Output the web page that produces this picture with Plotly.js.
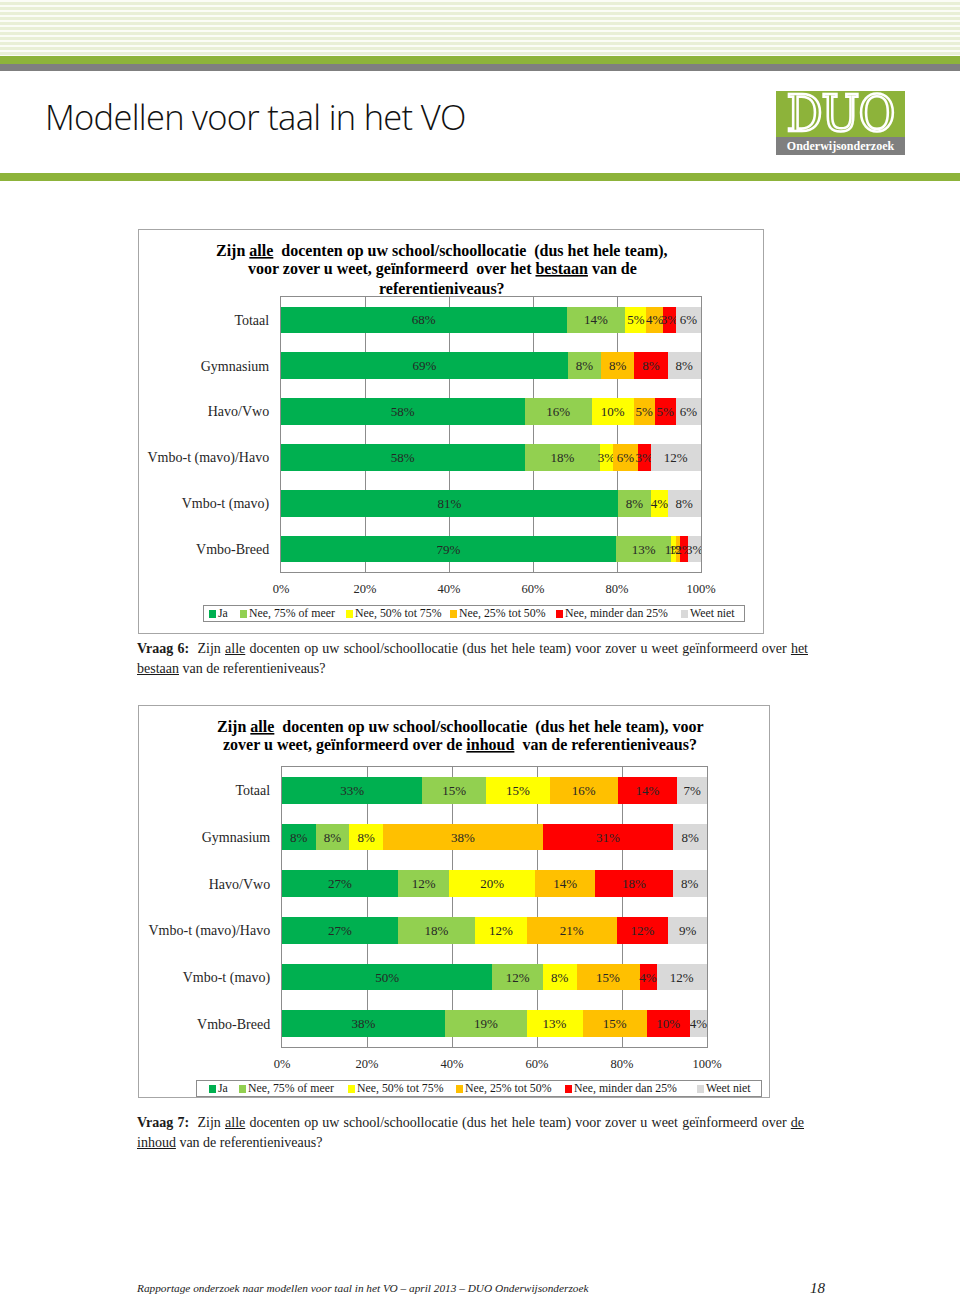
<!DOCTYPE html>
<html><head><meta charset="utf-8">
<script src="https://cdn.plot.ly/plotly-3.0.1.min.js"></script>
<style>
body{margin:0;width:960px;height:1298px;position:relative;background:#fff;font-family:"Liberation Serif",serif;overflow:hidden;color:#1a1a1a}
.abs{position:absolute}
#stripes{left:0;top:0;width:960px;height:56px;background:repeating-linear-gradient(to bottom,#fbfcf6 0px,#fbfcf6 2.5px,#e9efd6 2.5px,#e9efd6 5px)}
#g1{left:0;top:56px;width:960px;height:8px;background:#8db33a}
#gr1{left:0;top:64px;width:960px;height:7px;background:#7f7f7f}
#g2{left:0;top:173px;width:960px;height:8px;background:#8db33a}
#htitle{left:45px;top:93px;font-family:"Open Sans",sans-serif;font-weight:300;font-size:34.5px;color:#111;white-space:nowrap;letter-spacing:-0.7px}
#logo{left:776px;top:91px;width:129px;height:64px}
#logoTop{left:0;top:0;width:129px;height:46px;background:#8db33a;text-align:center;font-family:"DejaVu Serif",serif;font-stretch:condensed;font-size:50px;line-height:46px;color:#8db33a;-webkit-text-stroke:2.5px #fff;letter-spacing:-1px}
#logoBot{left:0;top:46px;width:129px;height:18px;background:#7f7f7f;color:#fff;font-weight:bold;font-size:12px;line-height:18px;text-align:center}
.box{border:1.5px solid #a6a6a6;box-sizing:border-box;pointer-events:none}
.leg{border:1px solid #8c8c8c;box-sizing:border-box;font-size:11.8px;line-height:15px;white-space:nowrap}
.legItem{position:absolute;top:0}
.sw{display:inline-block;width:7px;height:8px;margin-right:2px;vertical-align:-0.5px}
.cap{font-size:14px;line-height:20px;white-space:nowrap}
.just{text-align:justify;text-align-last:justify}
#footer{left:137px;top:1282px;font-style:italic;font-size:11.3px;white-space:nowrap;color:#222}
#pnum{left:810px;top:1280px;font-style:italic;font-size:15px;color:#222}
</style></head>
<body>
<div id="stripes" class="abs"></div>
<div id="g1" class="abs"></div>
<div id="gr1" class="abs"></div>
<div id="htitle" class="abs">Modellen voor taal in het VO</div>
<div id="logo" class="abs"><div id="logoTop" class="abs">DUO</div><div id="logoBot" class="abs">Onderwijsonderzoek</div></div>
<div id="g2" class="abs"></div>

<div id="chart1" class="abs" style="left:138px;top:229px;width:626px;height:405px"></div>
<div class="abs box" style="left:138px;top:229px;width:626px;height:405px"></div>
<div id="leg1" class="abs leg" style="left:203px;top:605px;width:542px;height:17px"></div>

<div class="abs cap just" style="left:137px;top:639px;width:671px"><b>Vraag 6:</b>&nbsp; Zijn <u>alle</u> docenten op uw school/schoollocatie (dus het hele team) voor zover u weet geïnformeerd over <u>het</u></div>
<div class="abs cap" style="left:137px;top:659px"><u>bestaan</u> van de referentieniveaus?</div>

<div id="chart2" class="abs" style="left:138px;top:705px;width:632px;height:393px"></div>
<div class="abs box" style="left:138px;top:705px;width:632px;height:393px"></div>
<div id="leg2" class="abs leg" style="left:196px;top:1080px;width:566px;height:17px"></div>

<div class="abs cap just" style="left:137px;top:1113px;width:667px"><b>Vraag 7:</b>&nbsp; Zijn <u>alle</u> docenten op uw school/schoollocatie (dus het hele team) voor zover u weet geïnformeerd over <u>de</u></div>
<div class="abs cap" style="left:137px;top:1133px"><u>inhoud</u> van de referentieniveaus?</div>

<div id="footer" class="abs">Rapportage onderzoek naar modellen voor taal in het VO – april 2013 – DUO Onderwijsonderzoek</div>
<div id="pnum" class="abs">18</div>

<script>
// ---------- DATA ----------
const categories = ["Totaal","Gymnasium","Havo/Vwo","Vmbo-t (mavo)/Havo","Vmbo-t (mavo)","Vmbo-Breed"];
const seriesNames = ["Ja","Nee, 75% of meer","Nee, 50% tot 75%","Nee, 25% tot 50%","Nee, minder dan 25%","Weet niet"];
const seriesColors = ["#00b050","#92d050","#ffff00","#ffc000","#ff0000","#d9d9d9"];
const xTickValues = [0,20,40,60,80,100];
const xTickLabels = ["0%","20%","40%","60%","80%","100%"];

// Vraag 6: bestaan
const q6_ja     = [68,69,58,58,81,79];
const q6_nee75  = [14, 8,16,18, 8,13];
const q6_nee50  = [ 5, 0,10, 3, 4, 1];
const q6_nee25  = [ 4, 8, 5, 6, 0, 1];
const q6_nee0   = [ 3, 8, 5, 3, 0, 2];
const q6_weet   = [ 6, 8, 6,12, 8, 3];

// Vraag 7: inhoud
const q7_ja     = [33, 8,27,27,50,38];
const q7_nee75  = [15, 8,12,18,12,19];
const q7_nee50  = [15, 8,20,12, 8,13];
const q7_nee25  = [16,38,14,21,15,15];
const q7_nee0   = [14,31,18,12, 4,10];
const q7_weet   = [ 7, 8, 8, 9,12, 4];

const U = s => "<span style='text-decoration:underline'>"+s+"</span>";
const title1Lines = ["Zijn "+U("alle")+"  docenten op uw school/schoollocatie  (dus het hele team),",
                     "voor zover u weet, geïnformeerd  over het "+U("bestaan")+" van de",
                     "referentieniveaus?"];
const title2Lines = ["Zijn "+U("alle")+"  docenten op uw school/schoollocatie  (dus het hele team), voor",
                     "zover u weet, geïnformeerd over de "+U("inhoud")+"  van de referentieniveaus?"];

// ---------- BUILD ----------
const FONT = "Liberation Serif, serif";
function traces(seriesList){
  return seriesList.map((vals,i)=>({
    type:'bar', orientation:'h', y:categories, x:vals, name:seriesNames[i],
    marker:{color:seriesColors[i], line:{width:0}},
    text:vals.map(v=>v>0? v+'%' : ''),
    textposition:'inside', insidetextanchor:'middle', textangle:0, constraintext:'none',
    insidetextfont:{family:FONT,size:13,color:'#262626'},
    hoverinfo:'skip'
  }));
}
// title lines as annotations, placed by pixel offsets relative to the plot area
function titleAnns(lines, cx, firstY, step, plotH){
  return lines.map((t,i)=>({
    text:t, xref:'paper', yref:'paper', x:cx, y:1 + (firstY - i*step)/plotH,
    xanchor:'center', yanchor:'middle', showarrow:false,
    font:{family:FONT,size:16,color:'#000',weight:'bold'}
  }));
}
function layout(W,H,m,anns,bargap){
  return {
    width:W,height:H,margin:m,paper_bgcolor:'rgba(0,0,0,0)',plot_bgcolor:'#fff',
    barmode:'stack',barnorm:'percent',bargap:bargap,showlegend:false,
    font:{family:FONT,color:'#262626'},
    annotations:anns,
    xaxis:{range:[0,100],tickvals:xTickValues,ticktext:xTickLabels,showgrid:true,gridcolor:'#8c8c8c',gridwidth:1,
           showline:true,mirror:true,linecolor:'#8c8c8c',linewidth:1,zeroline:false,ticks:'',ticklabelstandoff:5,
           tickfont:{family:FONT,size:12.5,color:'#262626'},fixedrange:true},
    yaxis:{type:'category',categoryorder:'array',categoryarray:categories,autorange:'reversed',showgrid:false,
           showline:true,mirror:true,linecolor:'#8c8c8c',linewidth:1,ticks:'',ticklabelstandoff:8,
           tickfont:{family:FONT,size:14,color:'#262626'},fixedrange:true}
  };
}
const cfg={staticPlot:true,displayModeBar:false};
// chart 1: plot area 420x275, title centre x offset 161px, first line 46px above plot
Plotly.newPlot('chart1',
  traces([q6_ja,q6_nee75,q6_nee50,q6_nee25,q6_nee0,q6_weet]),
  layout(626,405,{l:143,r:63,t:68,b:62,pad:0},titleAnns(title1Lines,161/420,46,18.5,275),0.42),cfg);
// chart 2: plot area 425x280
Plotly.newPlot('chart2',
  traces([q7_ja,q7_nee75,q7_nee50,q7_nee25,q7_nee0,q7_weet]),
  layout(632,393,{l:144,r:63,t:62,b:51,pad:0},titleAnns(title2Lines,178/425,40,18,280),0.43),cfg);

// legends (HTML, colours & names from series arrays)
function legend(id, lefts){
  const el=document.getElementById(id);
  seriesNames.forEach((n,i)=>{
    const s=document.createElement('span');
    s.className='legItem'; s.style.left=lefts[i]+'px';
    s.innerHTML='<span class="sw" style="background:'+seriesColors[i]+'"></span>'+n;
    el.appendChild(s);
  });
}
legend('leg1',[5,36,142,246,352,477]);
legend('leg2',[12,42,151,259,368,500]);
</script>
</body></html>
